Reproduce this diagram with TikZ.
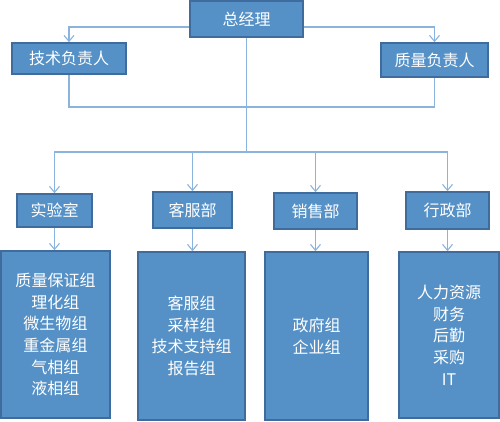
\documentclass[tikz,border=0pt]{standalone}
\usepackage{fontspec}
\setmainfont{Noto Sans CJK SC}
\usetikzlibrary{arrows.meta}
\definecolor{boxfill}{HTML}{5591C6}
\definecolor{boxline}{HTML}{3F6C9C}
\definecolor{conn}{HTML}{8AB4DE}
\begin{document}
\begin{tikzpicture}[x=1pt,y=-1pt,
  box/.style={draw=boxline,line width=1.6pt,fill=boxfill,text=white,inner sep=0pt,
    font=\fontsize{16pt}{21.7pt}\selectfont,align=center},
  conline/.style={draw=conn,line width=1.3pt},
  arr/.style={conline,-{Straight Barb[length=6pt,width=10pt,line width=1.1pt]}}]
\useasboundingbox (0,0) rectangle (500,421);
\node[box,minimum width=113pt,minimum height=36pt] (zjl) at (246.5,19) {总经理};
\node[box,minimum width=114pt,minimum height=31pt] (js) at (69,58.5) {技术负责人};
\node[box,minimum width=107pt,minimum height=34pt] (zl) at (434.5,60) {质量负责人};
\node[box,minimum width=75pt,minimum height=33pt] (sys) at (54.5,210.5) {实验室};
\node[box,minimum width=79pt,minimum height=36pt] (kf) at (192.5,210) {客服部};
\node[box,minimum width=83pt,minimum height=36pt] (xs) at (315.5,211) {销售部};
\node[box,minimum width=83pt,minimum height=37pt] (xz) at (447.5,210.5) {行政部};
\node[box,minimum width=109pt,minimum height=167pt] (b1) at (55.5,334.5) {质量保证组\\理化组\\微生物组\\重金属组\\气相组\\液相组};
\node[box,minimum width=107pt,minimum height=168pt] (b2) at (191.5,336) {客服组\\采样组\\技术支持组\\报告组};
\node[box,minimum width=103pt,minimum height=168pt] (b3) at (316.5,336) {政府组\\企业组};
\node[box,minimum width=100pt,minimum height=166pt] (b4) at (449,335) {人力资源\\财务\\后勤\\采购\\IT};
\coordinate (bus1) at (246.5,107);
\coordinate (bus2) at (246.5,152);
\draw[arr] ([yshift=-8pt]zjl.west) -| (js.north);
\draw[arr] ([yshift=-8pt]zjl.east) -| (zl.north);
\draw[conline] (js.south) |- (bus1) -| (zl.south);
\draw[conline] (zjl.south) -- (bus2);
\draw[arr] (bus2) -| (sys.north);
\draw[arr] (bus2) -| (kf.north);
\draw[arr] (bus2) -| (xs.north);
\draw[arr] (bus2) -| (xz.north);
\draw[arr] (sys.south) -- (b1.north -| sys.south);
\draw[arr] (kf.south) -- (b2.north -| kf.south);
\draw[arr] (xs.south) -- (b3.north -| xs.south);
\draw[arr] (xz.south) -- (b4.north -| xz.south);
\end{tikzpicture}
\end{document}
